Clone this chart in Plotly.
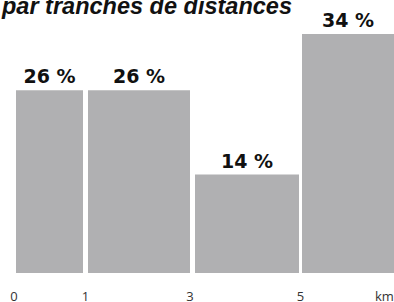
import plotly.graph_objects as go

# ---- data ----
bins = ["0-1 km", "1-3 km", "3-5 km", "5 km et +"]
shares = [26, 26, 14, 34]
tick_labels = ["0", "1", "3", "5", "km"]
title_text = "par tranches de distances"

# ---- layout (display geometry, pixel-like axis units) ----
bar_centers = [33.5, 123, 231, 332]
bar_widths = [67, 102, 104, 92]
tick_positions = [-2, 69.5, 174, 284.5, 368]
PX_PER_PCT = 7.03
PLOT_H = 273
BAR_COLOR = "#b0b0b2"
TICK_FONT = dict(family="Open Sans", size=13, color="#333333")

fig = go.Figure(
    go.Bar(
        x=bar_centers,
        y=shares,
        width=bar_widths,
        marker=dict(color=BAR_COLOR, line=dict(width=0)),
        text=[f"{v} %" for v in shares],
        textposition="outside",
        textfont=dict(family="DejaVu Sans", size=19, color="#111111", weight="bold"),
        cliponaxis=False,
        constraintext="none",
        hoverinfo="skip",
    )
)

fig.update_layout(
    width=394,
    height=302,
    margin=dict(l=0, r=0, t=0, b=29, autoexpand=False),
    paper_bgcolor="white",
    plot_bgcolor="white",
    showlegend=False,
    xaxis=dict(
        range=[-16, 378],
        tickvals=tick_positions[:-1],
        ticktext=tick_labels[:-1],
        showgrid=False,
        zeroline=False,
        showline=False,
        ticks="",
        automargin=False,
        tickfont=TICK_FONT,
        ticklabelstandoff=14,
    ),
    yaxis=dict(
        range=[0, PLOT_H / PX_PER_PCT],
        visible=False,
        showgrid=False,
        zeroline=False,
        automargin=False,
    ),
    annotations=[
        dict(
            text=f"<b><i>{title_text}</i></b>",
            xref="paper",
            yref="paper",
            x=0,
            y=1,
            xshift=-1,
            yshift=-6,
            xanchor="left",
            yanchor="middle",
            showarrow=False,
            font=dict(family="Liberation Sans", size=23.5, color="#111111"),
        ),
        dict(
            text=tick_labels[-1],
            xref="x",
            yref="paper",
            x=tick_positions[-1],
            y=0,
            yshift=-23,
            xanchor="center",
            yanchor="middle",
            showarrow=False,
            font=TICK_FONT,
        ),
    ],
)

fig.write_html(
    "out.html",
    config={"displayModeBar": False},
    post_script="document.body.style.margin='0';document.body.style.overflow='hidden';",
)
